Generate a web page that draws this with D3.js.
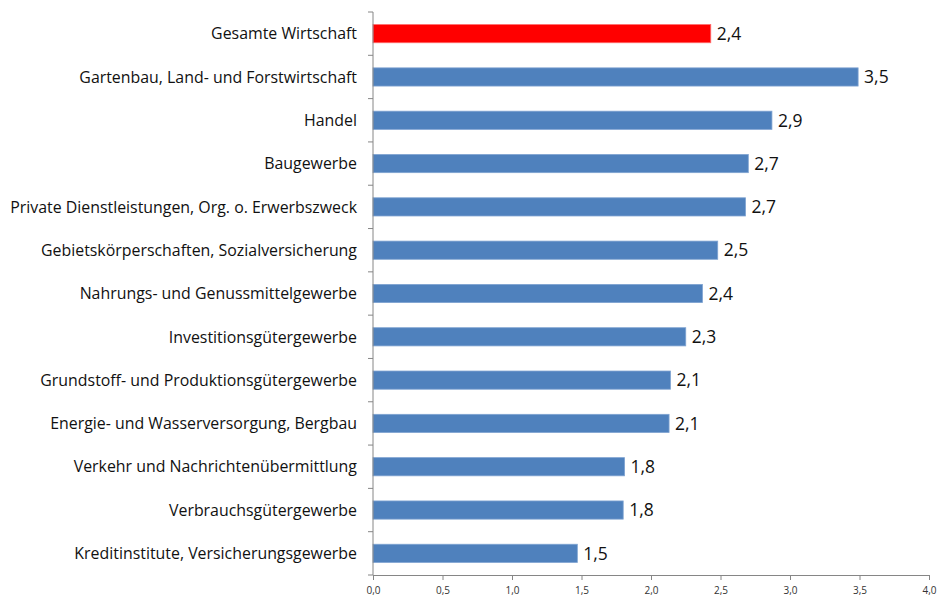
<!DOCTYPE html>
<html>
<head>
<meta charset="utf-8">
<script src="https://cdn.jsdelivr.net/npm/d3@7"></script>
<style>
  body { margin: 0; background: #fff; }
  svg text { font-family: "Open Sans", Lato, sans-serif; }
</style>
</head>
<body>
<div id="chart"></div>
<script>
const categories = [
  "Gesamte Wirtschaft",
  "Gartenbau, Land- und Forstwirtschaft",
  "Handel",
  "Baugewerbe",
  "Private Dienstleistungen, Org. o. Erwerbszweck",
  "Gebietskörperschaften, Sozialversicherung",
  "Nahrungs- und Genussmittelgewerbe",
  "Investitionsgütergewerbe",
  "Grundstoff- und Produktionsgütergewerbe",
  "Energie- und Wasserversorgung, Bergbau",
  "Verkehr und Nachrichtenübermittlung",
  "Verbrauchsgütergewerbe",
  "Kreditinstitute, Versicherungsgewerbe"
];
const values = [2.43, 3.49, 2.87, 2.70, 2.68, 2.48, 2.37, 2.25, 2.14, 2.13, 1.81, 1.80, 1.47];
const xTicks = [0, 0.5, 1.0, 1.5, 2.0, 2.5, 3.0, 3.5, 4.0];

const width = 938, height = 600;
const margin = { top: 12, right: 9, bottom: 25, left: 373 };

const svg = d3.select("#chart").append("svg")
    .attr("width", width)
    .attr("height", height);

const x = d3.scaleLinear().domain([0, 4]).range([margin.left, width - margin.right]);
const y = d3.scaleBand().domain(categories).range([margin.top, height - margin.bottom])
    .paddingInner(0.58).paddingOuter(0.29);

const fmt = v => d3.format(".1f")(v).replace(".", ",");

// bars
svg.selectAll("rect.bar")
    .data(categories)
    .enter()
    .append("rect")
    .attr("class", "bar")
    .attr("x", x(0))
    .attr("y", d => y(d))
    .attr("width", (d, i) => x(values[i]) - x(0))
    .attr("height", y.bandwidth())
    .attr("fill", (d, i) => i === 0 ? "#ff0000" : "#4f81bd")
    .attr("stroke", (d, i) => i === 0 ? "#ff6a6a" : "#7fa3d1")
    .attr("stroke-width", 0.8);

// value labels
svg.selectAll("text.val")
    .data(categories)
    .enter()
    .append("text")
    .attr("class", "val")
    .attr("x", (d, i) => x(values[i]) + 6)
    .attr("y", d => y(d) + y.bandwidth() / 2)
    .attr("dy", "0.36em")
    .attr("font-size", 17.5)
    .attr("fill", "#111")
    .text((d, i) => fmt(values[i]));

// y axis
const yAxis = svg.append("g")
    .attr("transform", `translate(${x(0)},0)`);
yAxis.append("line")
    .attr("y1", margin.top).attr("y2", height - margin.bottom)
    .attr("stroke", "#868686");
const step = y.step();
const bounds = d3.range(categories.length + 1).map(i => margin.top + i * step);
yAxis.selectAll("line.tick")
    .data(bounds)
    .enter()
    .append("line")
    .attr("class", "tick")
    .attr("x1", -5).attr("x2", 0)
    .attr("y1", d => d).attr("y2", d => d)
    .attr("stroke", "#868686");
svg.selectAll("text.cat")
    .data(categories)
    .enter()
    .append("text")
    .attr("class", "cat")
    .attr("x", 357)
    .attr("y", d => y(d) + y.bandwidth() / 2)
    .attr("dy", "0.36em")
    .attr("text-anchor", "end")
    .attr("font-size", 15.9)
    .attr("fill", "#111")
    .text(d => d);

// x axis
const xAxis = svg.append("g")
    .attr("transform", `translate(0,${height - margin.bottom})`)
    .call(d3.axisBottom(x).tickValues(xTicks).tickSize(5).tickSizeOuter(0).tickFormat(fmt));
xAxis.select(".domain").attr("stroke", "#868686");
xAxis.selectAll(".tick line").attr("stroke", "#868686");
xAxis.selectAll(".tick text")
    .attr("font-family", "'Open Sans', Lato, sans-serif")
    .attr("font-size", 10)
    .attr("fill", "#333")
    .attr("dy", "1.1em");
</script>
</body>
</html>
